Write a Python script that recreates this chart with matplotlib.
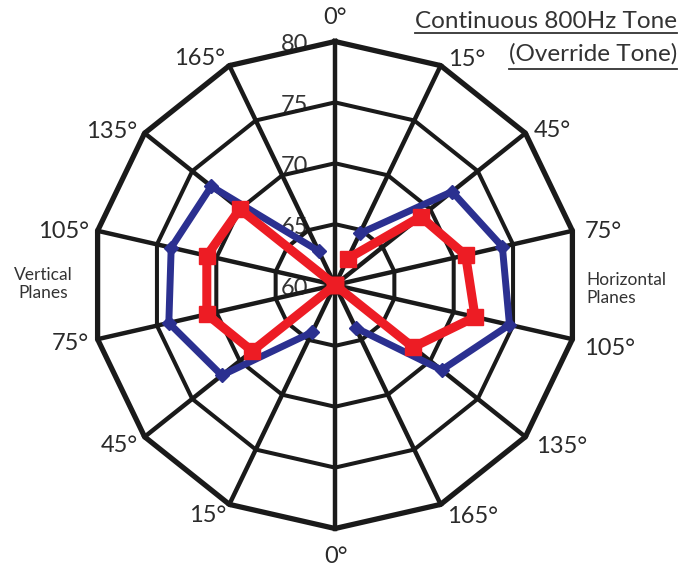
import numpy as np
import matplotlib.pyplot as plt

# spokes / rings
n_spokes = 14
ring_vals = [65, 70, 75, 80]
radial_vals = [60, 65, 70, 75, 80]
radial_labels = ['60', '65', '70', '75', '80']
angle_labels = ['0°', '15°', '45°', '75°', '105°', '135°', '165°',
                '0°', '15°', '45°', '75°', '105°', '135°', '165°']

# data (dB), right half = spokes 1..6, left half = spokes 8..13
right_spokes = [1, 2, 3, 4, 5, 6]
left_spokes = [8, 9, 10, 11, 12, 13]
blue_right = [64.7, 72.3, 74.1, 74.7, 71.2, 63.9]
blue_left = [64.3, 71.9, 74.0, 73.8, 73.0, 63.1]
red_right = [62.4, 69.0, 71.0, 71.8, 68.2, 60.0]
red_left = [60.0, 68.7, 70.8, 70.8, 70.0, 60.0]

blue = '#2b3090'
red = '#ed1c24'
ink = '#1a1a1a'
txt = '#2a2a2a'
font = 'Lato'

fig = plt.figure(figsize=(6.84, 5.67), dpi=100)
ax = fig.add_axes([0.13377, 0.0679, 0.71199, 0.85891], projection='polar')
ax.set_theta_zero_location('N')
ax.set_theta_direction(-1)
ax.set_ylim(60, 80)
ax.axis('off')

th = np.arange(n_spokes + 1) * 2 * np.pi / n_spokes

# polygon rings
for v in ring_vals:
    lw = 3.8 if v == 80 else 2.9
    ax.plot(th, [v] * len(th), color=ink, lw=lw, clip_on=False, zorder=2,
            solid_joinstyle='miter')
# spokes
for t in th[:-1]:
    ax.plot([t, t], [60, 80], color=ink, lw=3.2, clip_on=False, zorder=2)

# radial labels
for v, lab in zip(radial_vals, radial_labels):
    ax.annotate(lab, xy=(0, v), xytext=(-27, -10), textcoords='offset pixels',
                ha='right', va='baseline', fontsize=17, color='#333333',
                family=font, zorder=1)

# angle labels (offsets in pixels from the outer vertex)
label_off = [(0, 17.5, 'center'), (7, 0, 'left'), (8, -4, 'left'),
             (12, -7, 'left'), (12, -16, 'left'), (11, -16, 'left'),
             (6, -18.5, 'left'), (1, -34.5, 'center'),
             (-3, -17.5, 'right'), (-7, -15, 'right'), (-9, -11, 'right'),
             (-9, -7, 'right'), (-7, -5, 'right'), (-4, 0.5, 'right')]
for k, lab in enumerate(angle_labels):
    dx, dy, ha = label_off[k]
    ax.annotate(lab, xy=(th[k], 80), xytext=(dx, dy), textcoords='offset pixels',
                ha=ha, va='baseline', fontsize=17, color=txt, family=font,
                annotation_clip=False)

# series
for spokes, vals in [(right_spokes, blue_right), (left_spokes, blue_left)]:
    ax.plot(th[spokes], vals, color=blue, lw=5, marker='D', ms=7,
            clip_on=False, zorder=4)
for spokes, vals in [(right_spokes, red_right), (left_spokes, red_left)]:
    ax.plot(th[spokes], vals, color=red, lw=6.5, marker='s', ms=11,
            clip_on=False, zorder=5)

W, H = 684, 567
fig.text(43 / W, 1 - 284 / H, 'Vertical\nPlanes', ha='center', va='center',
         multialignment='center', fontsize=12.5, color='#333333', family=font,
         linespacing=1.1)
fig.text(586 / W, 1 - 289 / H, 'Horizontal\nPlanes', ha='left', va='center',
         multialignment='left', fontsize=12.5, color='#333333', family=font,
         linespacing=1.1)

t1 = fig.text(677 / W, 1 - 28 / H, 'Continuous 800Hz Tone', ha='right',
              va='baseline', fontsize=17.5, color='#333333', family=font)
t2 = fig.text(677 / W, 1 - 61 / H, '(Override Tone)', ha='right',
              va='baseline', fontsize=17.5, color='#333333', family=font)

# underline the title lines
fig.canvas.draw()
r = fig.canvas.get_renderer()
for t, uy in [(t1, 33), (t2, 69)]:
    bb = t.get_window_extent(r)
    fig.add_artist(plt.Line2D([bb.x0 / W, bb.x1 / W], [1 - uy / H, 1 - uy / H],
                              transform=fig.transFigure, color='#333333', lw=1.3))

fig.savefig('out.png', dpi=100)
